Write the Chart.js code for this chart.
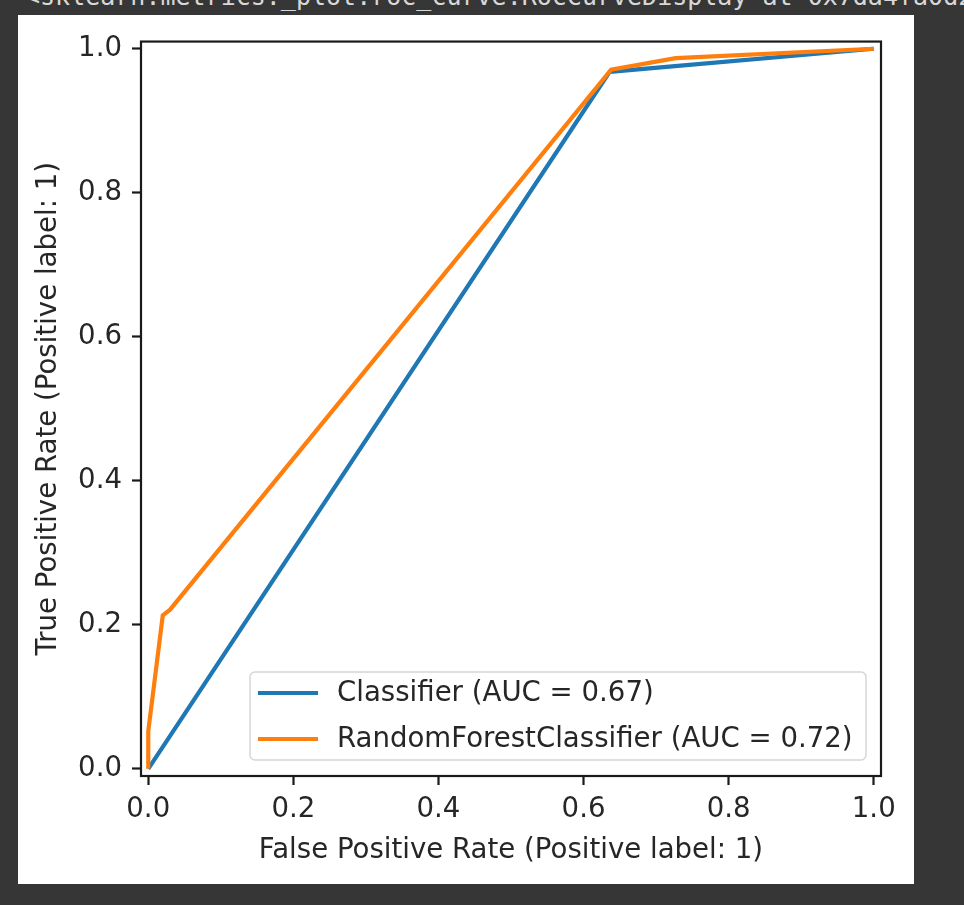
<!DOCTYPE html>
<html>
<head>
<meta charset="utf-8">
<script src="https://cdn.jsdelivr.net/npm/chart.js@4.4.1/dist/chart.umd.min.js"></script>
<style>
  html, body { margin: 0; padding: 0; width: 964px; height: 905px; background: #363636; overflow: hidden; }
  #repr { position: absolute; left: 25px; top: -16px; white-space: nowrap; font-family: "DejaVu Sans Mono", monospace; font-size: 25px; line-height: 25px; color: #d8d8d8; }
  #fig { position: absolute; left: 18px; top: 15px; width: 896px; height: 869px; background: #ffffff; }
</style>
</head>
<body>
<div id="repr">&lt;sklearn.metrics._plot.roc_curve.RocCurveDisplay at 0x7da4fa0d2ee0&gt;</div>
<div id="fig"><canvas id="c"></canvas></div>
<script>
// ---- data ----
const seriesNames = ["Classifier (AUC = 0.67)", "RandomForestClassifier (AUC = 0.72)"];
const clfFpr = [0, 0.636, 1];
const clfTpr = [0, 0.968, 1];
const rfFpr = [0, 0.0, 0.02, 0.03, 0.638, 0.727, 1];
const rfTpr = [0, 0.052, 0.213, 0.221, 0.971, 0.987, 1];
const xTicks = [0.0, 0.2, 0.4, 0.6, 0.8, 1.0];
const yTicks = [0.0, 0.2, 0.4, 0.6, 0.8, 1.0];
const xTitle = "False Positive Rate (Positive label: 1)";
const yTitle = "True Positive Rate (Positive label: 1)";

const FONT = "'DejaVu Sans', sans-serif";
const FS = 27.6;
const zip = (xs, ys) => xs.map((x, i) => ({ x: x, y: ys[i] }));

const framePlugin = {
  id: 'frame',
  afterDatasetsDraw(chart) {
    const { ctx, chartArea: a } = chart;
    ctx.save();
    ctx.strokeStyle = '#1a1a1a';
    ctx.lineWidth = 2.2;
    ctx.strokeRect(a.left, a.top, a.right - a.left, a.bottom - a.top);
    ctx.restore();
  }
};

const legendPlugin = {
  id: 'mplLegend',
  afterDraw(chart) {
    const { ctx, chartArea: a } = chart;
    const ds = chart.data.datasets;
    const boxR = a.right - 15, boxB = a.bottom - 16;
    const boxW = 616, boxH = 88;
    const boxL = boxR - boxW, boxT = boxB - boxH;
    ctx.save();
    ctx.beginPath();
    const r = 5;
    ctx.moveTo(boxL + r, boxT);
    ctx.arcTo(boxR, boxT, boxR, boxB, r);
    ctx.arcTo(boxR, boxB, boxL, boxB, r);
    ctx.arcTo(boxL, boxB, boxL, boxT, r);
    ctx.arcTo(boxL, boxT, boxR, boxT, r);
    ctx.closePath();
    ctx.fillStyle = 'rgba(255,255,255,0.8)';
    ctx.fill();
    ctx.strokeStyle = '#d6d6d6';
    ctx.lineWidth = 1.5;
    ctx.stroke();
    ctx.font = FS + 'px ' + FONT;
    ctx.textBaseline = 'middle';
    ctx.fillStyle = '#262626';
    [0, 1].forEach((i) => {
      const y = boxT + 21 + i * 46;
      ctx.strokeStyle = ds[i].borderColor;
      ctx.lineWidth = 4.2;
      ctx.beginPath();
      ctx.moveTo(boxL + 8, y);
      ctx.lineTo(boxL + 68, y);
      ctx.stroke();
      ctx.fillText(ds[i].label, boxL + 87, y + 1);
    });
    ctx.restore();
  }
};

new Chart(document.getElementById('c'), {
  type: 'scatter',
  data: {
    datasets: [
      { label: seriesNames[0], data: zip(clfFpr, clfTpr), showLine: true, borderColor: '#1f77b4', backgroundColor: '#1f77b4', borderWidth: 4.2, pointRadius: 0, tension: 0, order: 1 },
      { label: seriesNames[1], data: zip(rfFpr, rfTpr), showLine: true, borderColor: '#ff7f0e', backgroundColor: '#ff7f0e', borderWidth: 4.2, pointRadius: 0, tension: 0, order: 0 }
    ]
  },
  options: {
    responsive: true,
    maintainAspectRatio: false,
    animation: false,
    layout: { padding: { top: 23, right: 33, left: 0, bottom: 0 } },
    plugins: { legend: { display: false }, tooltip: { enabled: false } },
    scales: {
      x: {
        type: 'linear', min: -0.01, max: 1.01,
        afterBuildTicks: (s) => { s.ticks = xTicks.map(v => ({ value: v })); },
        afterFit: (s) => { s.height = 108; },
        border: { display: false },
        grid: { drawOnChartArea: false, drawTicks: true, tickLength: 9, tickWidth: 2.2, tickColor: '#1a1a1a' },
        ticks: { padding: 8, color: '#262626', font: { family: FONT, size: FS }, maxRotation: 0, callback: (v) => v.toFixed(1) },
        title: { display: true, text: xTitle, color: '#262626', font: { family: FONT, size: FS }, padding: { top: 0, bottom: 17 } }
      },
      y: {
        type: 'linear', min: -0.01, max: 1.01,
        afterBuildTicks: (s) => { s.ticks = yTicks.map(v => ({ value: v })); },
        afterFit: (s) => { s.width = 123; },
        border: { display: false },
        grid: { drawOnChartArea: false, drawTicks: true, tickLength: 9, tickWidth: 2.2, tickColor: '#1a1a1a' },
        ticks: { padding: 10, color: '#262626', font: { family: FONT, size: FS }, callback: (v) => v.toFixed(1) },
        title: { display: true, text: yTitle, color: '#262626', font: { family: FONT, size: FS }, padding: { top: 14, bottom: 0 } }
      }
    }
  },
  plugins: [framePlugin, legendPlugin]
});
</script>
</body>
</html>
